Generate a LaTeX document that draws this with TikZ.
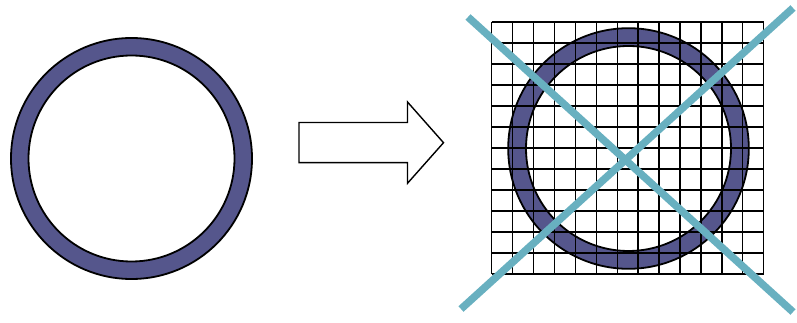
\documentclass[tikz,border=0pt]{standalone}
\usetikzlibrary{calc}
\definecolor{ringblue}{RGB}{85,86,140}
\definecolor{crosscyan}{RGB}{104,176,192}
\tikzset{
  ring/.style={fill=ringblue,draw=black,line width=1.8pt,even odd rule},
  gridline/.style={draw=black,line width=1.4pt},
  crossline/.style={draw=crosscyan,line width=7.5pt},
  bigarrow/.style={draw=black,fill=white,line width=1.4pt,line join=miter}
}
\begin{document}
\begin{tikzpicture}[x=1pt,y=-1pt]
\useasboundingbox (0,0) rectangle (797,323);
% left ring
\coordinate (lc) at (131.5,158.5);
\path[ring] (lc) circle[radius=120.5] (lc) circle[radius=103];
% arrow
\coordinate (a1) at (299,122.5);
\coordinate (a2) at (407.5,122.5);
\coordinate (a3) at (407.5,102);
\coordinate (a4) at (443.5,142.7);
\coordinate (a5) at (407.5,183.3);
\coordinate (a6) at (407.5,162.7);
\coordinate (a7) at (299,162.7);
\path[bigarrow] (a1) -- (a2) -- (a3) -- (a4) -- (a5) -- (a6) -- (a7) -- cycle;
% right ring
\coordinate (rc) at (628.5,148.5);
\path[ring] (rc) circle[radius=120.3] (rc) circle[radius=102.5];
% grid
\coordinate (g0) at (491.7,22);
\foreach \i in {0,...,13} {
  \draw[gridline] ($(g0)+(\i*20.923,0)$) -- ($(g0)+(\i*20.923,252)$);
}
\foreach \j in {0,...,12} {
  \draw[gridline] ($(g0)+(0,\j*21)$) -- ($(g0)+(272,\j*21)$);
}
% cross
\coordinate (c1) at (468,17);
\coordinate (c2) at (793,312);
\coordinate (c3) at (461,309);
\coordinate (c4) at (793,8);
\draw[crossline] (c1) -- (c2);
\draw[crossline] (c3) -- (c4);
\end{tikzpicture}
\end{document}
